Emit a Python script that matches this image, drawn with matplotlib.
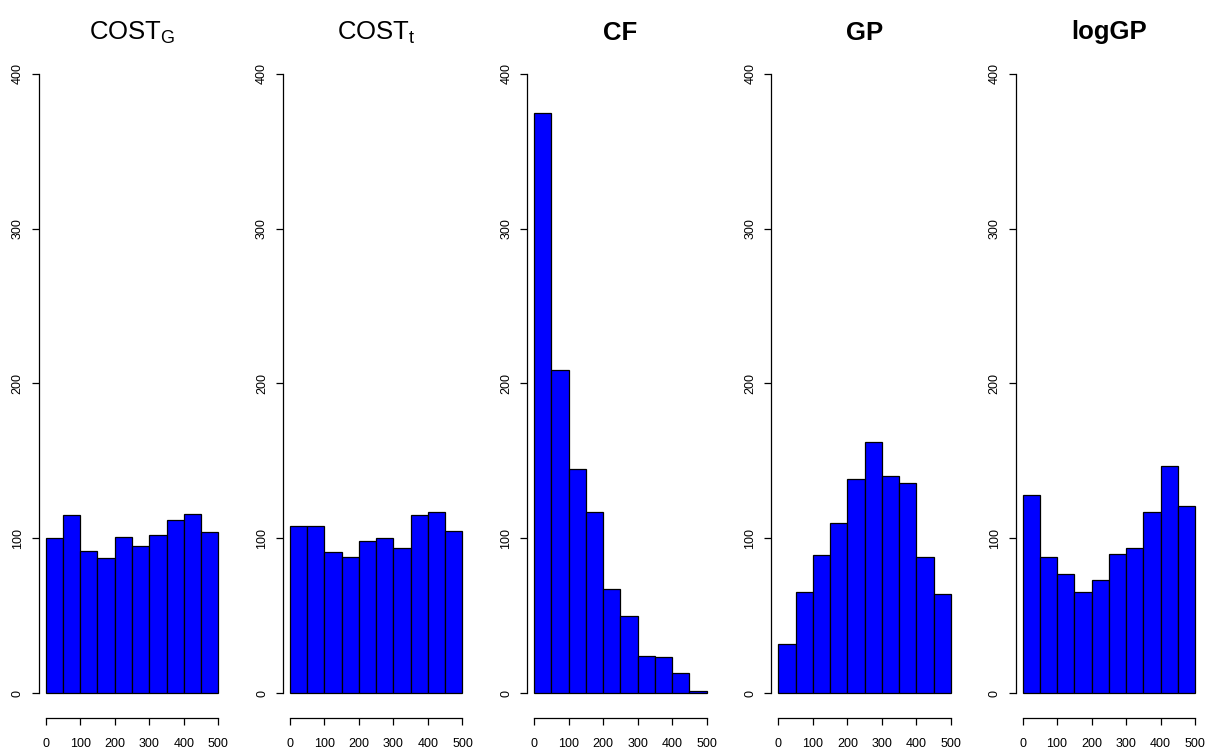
import matplotlib
matplotlib.use('Agg')
import matplotlib.pyplot as plt
import numpy as np

plt.rcParams['font.family'] = ['Liberation Sans', 'DejaVu Sans']
plt.rcParams['mathtext.fontset'] = 'custom'
plt.rcParams['mathtext.rm'] = 'Liberation Sans'
plt.rcParams['mathtext.default'] = 'regular'

# histogram bins (shared by every panel)
bin_edges = [0, 50, 100, 150, 200, 250, 300, 350, 400, 450, 500]

# counts
cost_g = [100, 115, 92, 87, 101, 95, 102, 112, 116, 104]
cost_t = [108, 108, 91, 88, 98, 100, 94, 115, 117, 105]
cf = [375, 209, 145, 117, 67, 50, 24, 23, 13, 1]
gp = [32, 65, 89, 110, 138, 162, 140, 136, 88, 64]
loggp = [128, 88, 77, 65, 73, 90, 94, 117, 147, 121]

panels = [
    (r'COST$_{G}$', cost_g, 'normal'),
    (r'COST$_{t}$', cost_t, 'normal'),
    ('CF', cf, 'bold'),
    ('GP', gp, 'bold'),
    ('logGP', loggp, 'bold'),
]

xticks = [0, 100, 200, 300, 400, 500]
yticks = [0, 100, 200, 300, 400]

W, H = 1206, 749
fig = plt.figure(figsize=(W / 100, H / 100), dpi=100)

edges = np.array(bin_edges)
for i, (title, counts, weight) in enumerate(panels):
    left = 38.8 + 244.2 * i
    ax = fig.add_axes([left / W, (H - 717.8) / H, 186.4 / W, (717.8 - 49.2) / H])
    ax.bar(edges[:-1], counts, width=np.diff(edges), align='edge',
           color='#0000ff', edgecolor='black', linewidth=0.9)
    ax.set_xlim(-20, 520)
    ax.set_ylim(-16, 416)
    for s in ['top', 'right']:
        ax.spines[s].set_visible(False)
    ax.spines['left'].set_bounds(0, 400)
    ax.spines['bottom'].set_bounds(0, 500)
    ax.spines['left'].set_linewidth(0.9)
    ax.spines['bottom'].set_linewidth(0.9)
    ax.set_xticks(xticks)
    ax.set_yticks(yticks)
    ax.tick_params(axis='both', length=5.3, width=0.9, labelsize=9)
    ax.tick_params(axis='x', pad=9)
    ax.tick_params(axis='y', pad=5.5)
    for lab in ax.get_yticklabels():
        lab.set_rotation(90)
        lab.set_va('center')
    # title placed in figure pixels so it sits like R's main title
    fig.text((left + 93.2) / W, (H - 39.5) / H, title, fontsize=18.5,
             fontweight=weight, ha='center', va='baseline')

fig.savefig('out.png', dpi=100)
